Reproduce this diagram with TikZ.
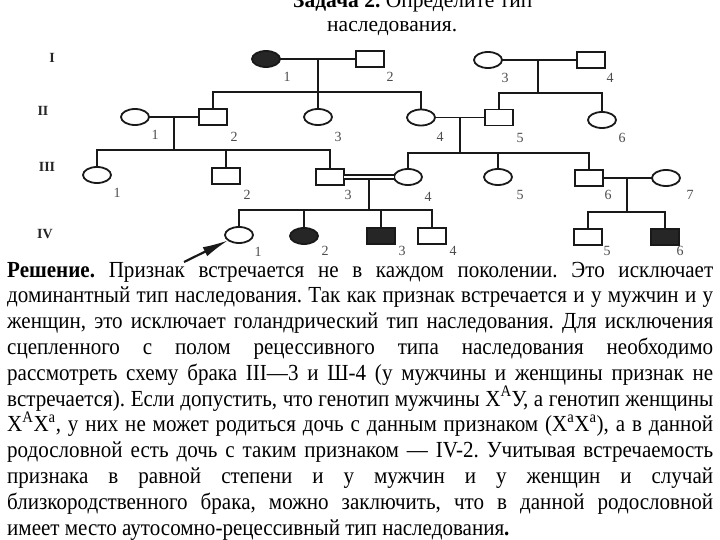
\documentclass[tikz,border=0pt]{standalone}
\usepackage{fontspec}
\setmainfont{Liberation Serif}
\newfontfamily\bodyfont{Liberation Serif}[FakeStretch=0.915]
\usetikzlibrary{shapes.geometric,arrows.meta}
\frenchspacing
\begin{document}
\begin{tikzpicture}[x=1pt,y=-1pt,
  person/.style={draw=black!90, line width=1.8pt, minimum width=28pt, minimum height=16pt, inner sep=0pt, outer sep=0pt},
  male/.style={person, rectangle},
  female/.style={person, ellipse},
  aff/.style={fill=black!85},
  conn/.style={line width=1.8pt, draw=black!90},
  num/.style={font=\fontsize{14}{14}\selectfont, text=black!70, inner sep=0pt},
  gen/.style={font=\bfseries\fontsize{14}{14}\selectfont, text=black!85, inner sep=0pt},
  bodyline/.style={anchor=base west, inner sep=0pt, font=\bodyfont\fontsize{23}{26}\selectfont},
  titleline/.style={anchor=base west, inner sep=0pt, font=\fontsize{21.5}{22}\selectfont},
  ]
\useasboundingbox (0,0) rectangle (720,540);

% title
\node[titleline] (t1) at (293,8) {\textbf{Задача 2.} Определите тип};
\node[titleline] (t2) at (327,32) {наследования.};

% generation labels
\node[gen] (g1) at (52,58) {I};
\node[gen] (g2) at (43,111) {II};
\node[gen] (g3) at (47,167) {III};
\node[gen] (g4) at (45,234) {IV};

% persons
\node[female,aff] (I1) at (266,59) {};
\node[male] (I2) at (370,59) {};
\node[female] (I3) at (488,60) {};
\node[male] (I4) at (591,60) {};
\node[female] (II1) at (135,117) {};
\node[male] (II2) at (213,117) {};
\node[female] (II3) at (318,117) {};
\node[female] (II4) at (421,117.5) {};
\node[male] (II5) at (499,117.5) {};
\node[female] (II6) at (602,120) {};
\node[female] (III1) at (97,175) {};
\node[male] (III2) at (226,176) {};
\node[male] (III3) at (330,177) {};
\node[female] (III4) at (408,177) {};
\node[female] (III5) at (498,177) {};
\node[male] (III6) at (589,178) {};
\node[female] (III7) at (666,178) {};
\node[female] (IV1) at (239,235) {};
\node[female,aff] (IV2) at (304,236) {};
\node[male,aff] (IV3) at (381,236) {};
\node[male] (IV4) at (432,236) {};
\node[male] (IV5) at (588,237) {};
\node[male,aff] (IV6) at (665,237) {};

% numbers
\node[num] (nI1) at (287,77) {1};
\node[num] (nI2) at (390,77) {2};
\node[num] (nI3) at (505,78) {3};
\node[num] (nI4) at (610,78) {4};
\node[num] (nII1) at (155,135) {1};
\node[num] (nII2) at (234,137) {2};
\node[num] (nII3) at (338,137) {3};
\node[num] (nII4) at (440,137) {4};
\node[num] (nII5) at (520,138) {5};
\node[num] (nII6) at (622,138) {6};
\node[num] (nIII1) at (117,193) {1};
\node[num] (nIII2) at (247,195) {2};
\node[num] (nIII3) at (348,195) {3};
\node[num] (nIII4) at (428,197) {4};
\node[num] (nIII5) at (520,195) {5};
\node[num] (nIII6) at (608,195) {6};
\node[num] (nIII7) at (690,195) {7};
\node[num] (nIV1) at (258,252) {1};
\node[num] (nIV2) at (325,251) {2};
\node[num] (nIV3) at (402,251) {3};
\node[num] (nIV4) at (453,251) {4};
\node[num] (nIV5) at (607,251) {5};
\node[num] (nIV6) at (680,251) {6};

% marriage and descent coordinates
\coordinate (mI12) at (318,59);   \coordinate (sI12) at (318,92);
\coordinate (mI34) at (538,60);   \coordinate (sI34) at (538,93);
\coordinate (mII12) at (174,117); \coordinate (sII12) at (174,150);
\coordinate (mII45) at (460,117.5); \coordinate (sII45) at (460,153);
\coordinate (mIII34) at (369,179); \coordinate (sIII34) at (369,210);
\coordinate (mIII67) at (627,178); \coordinate (sIII67) at (627,212);

% generation I
\draw[conn] (I1) -- (I2);
\draw[conn] (I3) -- (I4);
\draw[conn] (mI12) -- (II3.north);
\draw[conn] (II2.north) |- (sI12) -| (II4.north);
\draw[conn] (mI34) -- (sI34);
\draw[conn] (II5.north) |- (sI34) -| (II6.north);

% generation II
\draw[conn] (II1) -- (II2);
\draw[conn] (II4) -- (II5);
\draw[conn] (mII12) -- (sII12);
\draw[conn] (III1.north) |- (sII12) -| (III3.north);
\draw[conn] (III2.north) -- (III2.north |- sII12);
\draw[conn] (mII45) -- (sII45);
\draw[conn] (III4.north) |- (sII45) -| (III6.north);
\draw[conn] (III5.north) -- (III5.north |- sII45);

% generation III
\draw[line width=1.4pt, draw=black!90, double, double distance=2.6pt] (III3) -- (III4);
\draw[conn] (III6) -- (III7);
\draw[conn] (mIII34) -- (sIII34);
\draw[conn] (IV1.north) |- (sIII34) -| (IV4.north);
\draw[conn] (IV2.north) -- (IV2.north |- sIII34);
\draw[conn] (IV3.north) -- (IV3.north |- sIII34);
\draw[conn] (mIII67) -- (sIII67);
\draw[conn] (IV5.north) |- (sIII67) -| (IV6.north);

% proband arrow
\coordinate (arrtail) at (184,262);
\draw[conn, line width=2.2pt, -{Latex[length=26pt,width=10pt]}] (arrtail) -- (IV1);

% body text
\node[bodyline] (b1) at (7,277) {\makebox[706pt][s]{\textbf{Решение.} Признак встречается не в каждом поколении. Это исключает}};
\node[bodyline] (b2) at (7,302.8) {\makebox[706pt][s]{доминантный тип наследования. Так как признак встречается и у мужчин и у}};
\node[bodyline] (b3) at (7,328.6) {\makebox[706pt][s]{женщин, это исключает голандрический тип наследования. Для исключения}};
\node[bodyline] (b4) at (7,354.4) {\makebox[706pt][s]{сцепленного с полом рецессивного типа наследования необходимо}};
\node[bodyline] (b5) at (7,380.2) {\makebox[706pt][s]{рассмотреть схему брака III—3 и Ш-4 (у мужчины и женщины признак не}};
\node[bodyline] (b6) at (7,406) {\makebox[706pt][s]{встречается). Если допустить, что генотип мужчины X\textsuperscript{A}У, а генотип женщины}};
\node[bodyline] (b7) at (7,431.8) {\makebox[706pt][s]{X\textsuperscript{A}X\textsuperscript{a}, у них не может родиться дочь с данным признаком (X\textsuperscript{a}X\textsuperscript{a}), а в данной}};
\node[bodyline] (b8) at (7,457.6) {\makebox[706pt][s]{родословной есть дочь с таким признаком — IV-2. Учитывая встречаемость}};
\node[bodyline] (b9) at (7,483.4) {\makebox[706pt][s]{признака в равной степени и у мужчин и у женщин и случай}};
\node[bodyline] (b10) at (7,509.2) {\makebox[706pt][s]{близкородственного брака, можно заключить, что в данной родословной}};
\node[bodyline] (b11) at (7,535) {имеет место аутосомно-рецессивный тип наследования\textbf{.}};
\end{tikzpicture}
\end{document}
